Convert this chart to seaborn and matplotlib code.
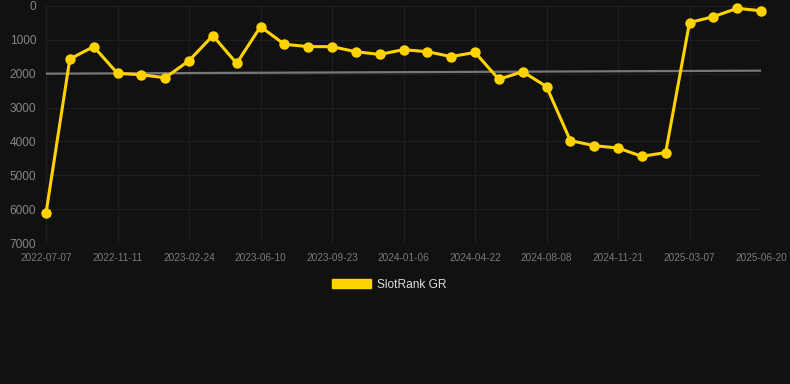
import numpy as np
import pandas as pd
import matplotlib
matplotlib.use("Agg")
import matplotlib.pyplot as plt
from matplotlib.patches import Patch
import seaborn as sns

# rank values, one point per snapshot (evenly spaced on a category axis)
rank = [6120, 1565, 1200, 1990, 2030, 2120, 1615, 875, 1695, 610,
        1130, 1200, 1200, 1350, 1430, 1290, 1350, 1495, 1370, 2165,
        1940, 2380, 3975, 4125, 4195, 4440, 4330, 490, 315, 70, 140]
# labelled dates, every third point
tick_labels = ["2022-07-07", "2022-11-11", "2023-02-24", "2023-06-10",
               "2023-09-23", "2024-01-06", "2024-04-22", "2024-08-08",
               "2024-11-21", "2025-03-07", "2025-06-20"]
# trend line end values
trend = [1998, 1910]
series_name = "SlotRank GR"

bg = "#111111"
grid_c = "#1f1f1f"
gold = "#FFD300"

df = pd.DataFrame({"idx": np.arange(len(rank)), "rank": rank})
trend_df = pd.DataFrame({"idx": [0, len(rank) - 1], "rank": trend})

sns.set_style("dark")
plt.rcParams["font.family"] = ["Liberation Sans", "DejaVu Sans"]

fig = plt.figure(figsize=(7.9, 3.84), dpi=100, facecolor=bg)
ax = fig.add_axes([46 / 790, 1 - 243 / 384, (761 - 46) / 790, (243 - 6) / 384])
ax.set_facecolor(bg)

sns.lineplot(data=trend_df, x="idx", y="rank", ax=ax, color="#777777",
             linewidth=1.6, zorder=2)
sns.lineplot(data=df, x="idx", y="rank", ax=ax, color=gold, linewidth=2.2,
             marker="o", markersize=7.5, markeredgewidth=0,
             markerfacecolor=gold, zorder=3, clip_on=False)

ax.set_xlim(0, len(rank) - 1)
ax.set_ylim(7000, 0)
ax.set_xticks(np.arange(0, len(rank), 3))
ax.set_xticklabels(tick_labels)
ax.set_yticks(np.arange(0, 7001, 1000))
ax.set_yticklabels([str(v) for v in range(0, 7001, 1000)])
ax.set_xlabel("")
ax.set_ylabel("")

ax.grid(True, color=grid_c, linewidth=0.8)
for s in ax.spines.values():
    s.set_visible(False)
ax.tick_params(axis="x", colors=grid_c, labelcolor="#7a7a7a", labelsize=7.2,
               length=5, width=0.8, pad=2)
ax.tick_params(axis="y", colors=grid_c, labelcolor="#858585", labelsize=8.6,
               length=6, width=0.8, pad=1)

handle = Patch(facecolor=gold, edgecolor=gold)
fig.legend([handle], [series_name], loc="center",
           bbox_to_anchor=(389 / 790, 1 - 285 / 384), frameon=False,
           handlelength=3.3, handleheight=0.8, handletextpad=0.5,
           fontsize=8.6, labelcolor="#dddddd")

fig.savefig("out.png", dpi=100, facecolor=bg)
